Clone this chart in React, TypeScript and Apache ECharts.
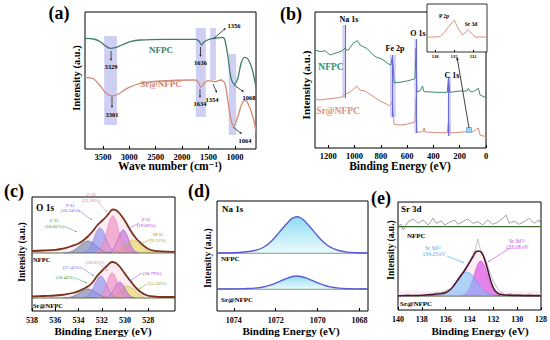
import React, { useEffect, useRef } from "react";
import * as echarts from "echarts";

const SERIF = '"Liberation Serif", "DejaVu Serif", serif';

// ---------- (a) FTIR ----------
const aTicks = [1000, 1500, 2000, 2500, 3000, 3500];
const aNFPC = [[3840,110.7],[3680,110],[3550,107.3],[3460,103.3],[3360,100.7],[3270,101.3],[3140,104],[2980,107.3],[2790,109],[2350,109.7],[1740,109.7],[1680,108],[1632,104],[1580,107.3],[1490,109.7],[1390,110.7],[1230,111.7],[1190,109],[1136,94],[1073,70.7],[1010,64.7],[945,70.7],[882,85.7],[819,91.7],[754,90],[678,80.7],[600,62]];
const aSrNFPC = [[3840,71.7],[3680,70.3],[3550,63],[3440,55.7],[3330,53],[3205,55],[3044,60.7],[2790,65.7],[2409,68],[1773,69],[1697,67.3],[1645,61.7],[1580,66.3],[1490,68.3],[1390,67.3],[1264,69],[1190,65.7],[1136,49],[1073,29],[1021,23],[945,32.3],[882,43],[819,49],[754,45.7],[659,32.3],[600,17.3]];
const aBands = [[3477,3235,24,113],[1741,1550,32,121],[1468,1359,69,121],[1117,977,14,95]];

// ---------- (b) XPS survey ----------
const bTicks = [0, 200, 400, 600, 800, 1000, 1200];
const bNFPC = [[1300,98],[1262,96.3],[1224,97.3],[1186,93],[1148,94.7],[1110,96.3],[1085,98],[1071,100],[1060,98],[1047,98],[1009,104.7],[978,107.3],[958,103],[933,101.3],[907,99.7],[882,96.3],[857,93],[831,90.7],[806,89.7],[781,88],[750,84.7],[724,83],[711,91],[705,80],[699,65.3],[654,65.7],[603,67],[552,68.7],[540,69.5],[531,100],[525,56.3],[502,57],[482,62],[475,57],[464,56.3],[375,55.7],[294,55.7],[285,70.7],[276,55.7],[197,57],[146,57],[134,59.7],[120,56.5],[96,56.3],[58,59.7],[45,53],[0,50.3]];
const bSrNFPC = [[1300,49],[1262,48],[1211,49],[1160,49.7],[1110,50.3],[1085,52],[1071,53.7],[1034,55.7],[983,62],[958,58],[920,57],[882,53.7],[844,50.3],[806,47],[768,44.7],[735,42.3],[718,44],[711,48],[705,35],[699,23.7],[654,23],[603,23.7],[547,25.7],[540,26],[531,50],[525,15.7],[479,16.3],[470,20],[464,16],[375,15.3],[294,15.3],[285,28],[276,15.3],[240,15.3],[146,16.3],[96,16.3],[70,19],[58,20],[45,13],[0,11.3]];
const bPeaks = [[1071,1092,1064,50,123],[711,730,686,31,93],[531,545,523,15,109],[285,291,266,12,71]];
const bInsetTicks = [132, 135, 138];
const bInset = [[139.3,15],[138,15],[137.2,15.5],[136.5,20],[135.8,26],[135.0,32],[134.4,24],[133.7,17],[133.3,19],[132.8,22.5],[132.2,18.5],[131.7,15],[129.8,15]];

// ---------- (c) O 1s ----------
const cTicks = [528, 530, 532, 534, 536, 538];
const cOffNFPC = 58;
const cOffSr = 13;
const cEnvN = [[538,2],[537,2.5],[536,3.2],[535.5,4],[535,5.3],[534.5,7.3],[534,9.5],[533.6,12.5],[533.2,16.5],[532.8,21.5],[532.4,27.5],[532,32],[531.6,36.5],[531.3,41],[531.05,43.5],[530.8,43],[530.5,40],[530.2,35.5],[529.9,30],[529.6,24],[529.3,18.5],[529,14],[528.6,9.5],[528.2,5.5],[527.8,3],[527.2,1.8],[526.5,1.3],[525.7,1.2]];
const cCO_N = [[535.3,0.1],[534.95,0.5],[534.6,1.6],[534.25,3.9],[533.9,7.3],[533.55,10.6],[533.2,12],[532.85,10.6],[532.5,7.3],[532.15,3.9],[531.8,1.6],[531.45,0.5],[531.1,0.1]];
const cPO1_N = [[533.65,0.3],[533.4,1.1],[533.15,3.4],[532.9,8.1],[532.65,15.2],[532.4,22.1],[532.15,25],[531.9,22.1],[531.65,15.2],[531.4,8.1],[531.15,3.4],[530.9,1.1],[530.65,0.3]];
const cCeO_N = [[532.55,0.4],[532.3,1.6],[532.05,5],[531.8,12],[531.55,22.5],[531.3,32.6],[531.05,37],[530.8,32.6],[530.55,22.5],[530.3,12],[530.05,5],[529.8,1.6],[529.55,0.4]];
const cPO2_N = [[531.5,0.3],[531.28,1],[531.05,3.1],[530.83,7.5],[530.6,14],[530.38,20.3],[530.15,23],[529.93,20.3],[529.7,14],[529.48,7.5],[529.25,3.1],[529.03,1],[528.8,0.3]];
const cMO_N = [[531.25,0.1],[530.93,0.6],[530.6,1.8],[530.28,4.2],[529.95,7.9],[529.63,11.5],[529.3,13],[528.98,11.5],[528.65,7.9],[528.33,4.2],[528,1.8],[527.68,0.6],[527.35,0.1]];
const cEnvS = [[538,1.5],[537,2],[536,2.5],[535.5,3],[535,3.8],[534.5,5],[534,6.8],[533.6,9],[533.2,11.5],[532.8,15.5],[532.4,22],[532,27],[531.6,31.5],[531.3,35],[531.1,36],[530.8,35],[530.5,32],[530.2,27.5],[529.9,22.5],[529.6,18],[529.3,13.5],[529,9.5],[528.6,5.5],[528.2,3],[527.8,1.8],[527.2,1.2],[526.5,1],[525.7,1]];
const cCO_S = [[535.3,0.1],[534.95,0.4],[534.6,1.2],[534.25,2.9],[533.9,5.5],[533.55,7.9],[533.2,9],[532.85,7.9],[532.5,5.5],[532.15,2.9],[531.8,1.2],[531.45,0.4],[531.1,0.1]];
const cPO1_S = [[533.6,0.2],[533.35,1],[533.1,3],[532.85,7.2],[532.6,13.4],[532.35,19.4],[532.1,22],[531.85,19.4],[531.6,13.4],[531.35,7.2],[531.1,3],[530.85,1],[530.6,0.2]];
const cCeO_S = [[532.45,0.3],[532.23,1.1],[532,3.4],[531.78,8.1],[531.55,15.2],[531.33,22.1],[531.1,25],[530.88,22.1],[530.65,15.2],[530.43,8.1],[530.2,3.4],[529.98,1.1],[529.75,0.3]];
const cPO2_S = [[531.8,0.2],[531.58,0.7],[531.35,2.2],[531.13,5.2],[530.9,9.7],[530.68,14.1],[530.45,16],[530.23,14.1],[530,9.7],[529.78,5.2],[529.55,2.2],[529.33,0.7],[529.1,0.2]];
const cMO_S = [[531.75,0.1],[531.43,0.5],[531.1,1.6],[530.78,3.9],[530.45,7.3],[530.13,10.6],[529.8,12],[529.48,10.6],[529.15,7.3],[528.83,3.9],[528.5,1.6],[528.18,0.5],[527.85,0.1]];

// ---------- (d) Na 1s ----------
const dTicks = [1068, 1070, 1072, 1074];
const dOffNFPC = 58;
const dOffSr = 22;
const dNaN = [[1074.8,0],[1074,0.3],[1073.5,1],[1073,2.5],[1072.6,5.5],[1072.3,10],[1072,16.5],[1071.7,24],[1071.4,31],[1071.2,34.8],[1071,36.3],[1070.8,35],[1070.6,31.5],[1070.3,24.5],[1070,17],[1069.7,10.5],[1069.4,5.8],[1069,2.5],[1068.6,0.9],[1068.2,0.3],[1067.6,0]];
const dNaS = [[1074.8,0],[1074,0.1],[1073.5,0.4],[1073,0.9],[1072.6,2],[1072.3,3.6],[1072,5.9],[1071.7,8.6],[1071.4,11.1],[1071.2,12.5],[1071,13],[1070.8,12.5],[1070.6,11.3],[1070.3,8.8],[1070,6.1],[1069.7,3.8],[1069.4,2.1],[1069,0.9],[1068.6,0.3],[1068.2,0.1],[1067.6,0]];

// ---------- (e) Sr 3d ----------
const eTicks = [128, 130, 132, 134, 136, 138, 140];
const eOffNFPC = 83.3;
const eOffSr = 14;
const eNoiseN = [[140,0.7],[139.75,2.4],[139.56,-3.3],[139.14,5],[138.72,7.7],[138.31,3.4],[137.89,6.7],[137.47,1.7],[137.06,8.4],[136.78,3.4],[136.36,5.7],[136.08,1.7],[135.67,4.4],[135.25,6.7],[134.97,2.4],[134.56,5],[134.14,7.7],[133.72,3.4],[133.31,5],[132.89,1.7],[132.47,6.7],[132.06,2.4],[131.64,4.4],[131.22,8.4],[130.94,11.7],[130.67,3.4],[130.25,5.7],[129.83,2.4],[129.42,5],[129,8.4],[128.58,3.4],[128.17,6.7],[128,2.7]];
const eRawS = [[140,0.5],[139.6,-0.5],[139.2,1.5],[138.8,0.3],[138.4,1],[138,0],[137.6,1.8],[137.2,1],[136.8,3.5],[136.4,3],[136,5.5],[135.6,7],[135.2,12],[134.8,17],[134.4,27],[134,35],[133.7,42],[133.5,47],[133.3,57],[133.1,47],[132.9,43],[132.6,35],[132.3,24],[132,15],[131.7,8],[131.4,4.5],[131,1],[130.6,2.5],[130.2,0.5],[129.8,1.5],[129.4,0],[129,2],[128.6,0.5],[128.2,1.2],[128,0.3]];
const eEnvS = [[140,0.3],[139,0.5],[138,0.8],[137.5,1.2],[137,1.6],[136.5,2.3],[136,3.6],[135.6,6.5],[135.25,11.5],[134.9,17.5],[134.6,22.5],[134.3,27.5],[134,33.5],[133.7,39.5],[133.44,44.5],[133.2,45],[133,43.5],[132.8,39],[132.55,29.5],[132.3,18.5],[132.05,9.5],[131.8,4.5],[131.5,2],[131,1],[130,0.6],[129,0.4],[128,0.3]];
const eSr32 = [[136.8,0.3],[136.38,1.1],[135.95,3.2],[135.53,7.8],[135.1,14.6],[134.68,21.2],[134.25,24],[133.83,21.2],[133.4,14.6],[132.98,7.8],[132.55,3.2],[132.13,1.1],[131.7,0.3]];
const eSr52 = [[134.7,0.4],[134.43,1.5],[134.15,4.7],[133.88,11.4],[133.6,21.2],[133.33,30.9],[133.05,35],[132.78,30.9],[132.5,21.2],[132.23,11.4],[131.95,4.7],[131.68,1.5],[131.4,0.4]];

// ---------- helpers ----------
const shift = (d: number[][], off: number) => d.map(([x, y]) => [x, +(y + off).toFixed(2)]);

function line(gi: number, data: any, color: string, width: number, o: any = {}) {
  return { type: "line", xAxisIndex: gi, yAxisIndex: gi, data, symbol: "none", silent: true,
    lineStyle: { color, width }, itemStyle: { color }, z: 3, ...o };
}
function comp(gi: number, d: number[][], off: number, fill: any, stroke: string, z = 3) {
  return line(gi, shift(d, off), stroke, 0.6, { smooth: 0.4, z, areaStyle: { color: fill, origin: off, opacity: 1 } });
}
function flat(gi: number, x1: number, x2: number, off: number, color: string, w: number) {
  return line(gi, [[x1, off], [x2, off]], color, w, { z: 3 });
}
function xAx(gi: number, min: number, max: number, ticks: number[], fs = 8, margin = 4, tl = 3) {
  return { type: "value", gridIndex: gi, min, max, inverse: true,
    axisLine: { show: false }, splitLine: { show: false },
    axisTick: { show: true, inside: true, length: tl, lineStyle: { color: "#000", width: 1 }, customValues: ticks },
    axisLabel: { show: true, customValues: ticks, formatter: (v: number) => String(v),
      fontFamily: SERIF, fontWeight: "bold", fontSize: fs, color: "#000", margin } };
}
function yAx(gi: number, max: number) {
  return { type: "value", gridIndex: gi, min: 0, max, show: false };
}
function txt(x: number, y: number, text: string, size: number, fill = "#000", o: any = {}) {
  const { align = "center", weight = "bold", rot = 0, lh } = o;
  return { type: "text", x, y, rotation: rot, z: 60,
    style: { text, fill, fontFamily: SERIF, fontSize: size, fontWeight: weight, align, verticalAlign: "middle",
      lineHeight: lh || size * 1.1, rich: o.rich } };
}
function arrow(x1: number, y1: number, x2: number, y2: number, color = "#222", w = 0.8, h = 2.6) {
  const a = Math.atan2(y2 - y1, x2 - x1);
  const bx = x2 - h * Math.cos(a), by = y2 - h * Math.sin(a);
  const px = -Math.sin(a) * h * 0.45, py = Math.cos(a) * h * 0.45;
  return [
    { type: "line", z: 55, shape: { x1, y1, x2: bx, y2: by }, style: { stroke: color, lineWidth: w } },
    { type: "polygon", z: 55, shape: { points: [[x2, y2], [bx + px, by + py], [bx - px, by - py]] }, style: { fill: color } },
  ];
}
const ROT = Math.PI / 2;

export default function App() {
  const ref = useRef<HTMLDivElement>(null);
  useEffect(() => {
    if (!ref.current) return;
    const chart = echarts.init(ref.current, null, { renderer: "svg", width: 550, height: 340 });

    const gridBox = [
      [85, 12, 171, 137],
      [315, 12, 171, 136],
      [32, 197, 143, 114],
      [217, 201, 151, 110],
      [398, 202, 144, 108],
      [427, 4, 60, 48],
    ];
    const grid = gridBox.map(([left, top, width, height], i) => ({
      left, top, width, height, show: true, borderColor: "#000", borderWidth: i === 5 ? 0.8 : 1,
      backgroundColor: i === 5 ? "#fff" : "transparent", containLabel: false,
    }));

    const xAxis = [
      xAx(0, 600, 3840, aTicks, 8.5, 3),
      xAx(1, 0, 1300, bTicks, 8.5, 3),
      xAx(2, 525.7, 538, cTicks, 8, 5),
      xAx(3, 1067.6, 1074.8, dTicks, 8, 5),
      xAx(4, 128, 140, eTicks, 8, 5),
      xAx(5, 129.8, 139.3, bInsetTicks, 4.5, 2, 2),
    ];
    const yAxis = [yAx(0, 137), yAx(1, 136), yAx(2, 114), yAx(3, 110), yAx(4, 108), yAx(5, 48)];

    const band = (arr: number[][], color: string) => ({
      silent: true, itemStyle: { color }, label: { show: false },
      data: arr.map(([x1, x2, y1, y2]) => [{ xAxis: x1, yAxis: y1 }, { xAxis: x2, yAxis: y2 }]),
    });

    const series: any[] = [];
    // (a)
    series.push(line(0, aNFPC, "#3f7d6e", 1.3, { smooth: 0.3, markArea: band(aBands, "rgba(140,140,228,0.42)") }));
    series.push(line(0, aSrNFPC, "#d08a76", 1.3, { smooth: 0.3 }));
    // (b)
    series.push(line(1, bNFPC, "#3a8a6c", 1, {
      markArea: band(bPeaks.map(([, f, t, lo, hi]) => [f, t, lo, hi]), "rgba(150,150,230,0.45)"),
      markLine: { silent: true, symbol: "none", label: { show: false }, lineStyle: { color: "#6a6ad6", width: 1, type: "solid" },
        data: bPeaks.map(([e, , , lo, hi]) => [{ coord: [e, lo] }, { coord: [e, hi] }]) },
    }));
    series.push(line(1, bSrNFPC, "#d48e7a", 1));
    series.push(line(5, bInset, "#d8957f", 1, { z: 6 }));
    // (c)
    const cSets = [
      [cOffNFPC, cEnvN, cCO_N, cMO_N, cPO2_N, cPO1_N, cCeO_N],
      [cOffSr, cEnvS, cCO_S, cMO_S, cPO2_S, cPO1_S, cCeO_S],
    ] as any[];
    for (const [off, env, co, mo, po2, po1, ceo] of cSets) {
      series.push(line(2, shift(env, off), "transparent", 0, { smooth: 0.4, z: 2, areaStyle: { color: "rgba(248,205,224,0.55)", origin: off } }));
      series.push(flat(2, 538, 525.7, off, "#4d5d3a", 0.9));
      series.push(comp(2, co, off, "rgba(95,120,165,0.55)", "#5a6e98"));
      series.push(comp(2, mo, off, "rgba(235,220,120,0.75)", "#c8b440"));
      series.push(comp(2, po2, off, "rgba(190,110,215,0.65)", "#a855c8"));
      series.push(comp(2, po1, off, "rgba(150,150,240,0.7)", "#7a7ae0"));
      series.push(comp(2, ceo, off, "rgba(240,150,200,0.72)", "#e07ab0"));
      series.push(line(2, shift(env, off), "#7a3218", 1.8, { smooth: 0.4, z: 5 }));
    }
    // (d)
    for (const [off, d] of [[dOffNFPC, dNaN], [dOffSr, dNaS]] as any[]) {
      series.push(flat(3, 1074.8, 1067.6, off, "#3d6b3a", 1.2));
      series.push(line(3, shift(d, off), "#5b5bd6", 1.4, { smooth: 0.4, z: 4,
        areaStyle: { origin: off, color: new echarts.graphic.LinearGradient(0, 0, 0, 1, [
          { offset: 0, color: "#5fd0ef" }, { offset: 1, color: "#e4f8fc" }]) } }));
    }
    // (e)
    series.push(line(4, shift(eNoiseN, eOffNFPC), "#8a8a8a", 0.8, { z: 3 }));
    series.push(flat(4, 140, 128, eOffNFPC, "#3f6b35", 1.3));
    series.push(line(4, shift(eEnvS, eOffSr), "transparent", 0, { smooth: 0.4, z: 2,
      areaStyle: { color: "rgba(250,205,228,0.5)", origin: eOffSr },
      markArea: { silent: true, itemStyle: { color: "rgba(250,200,225,0.35)" }, data: [[{ xAxis: 140, yAxis: eOffSr }, { xAxis: 128, yAxis: eOffSr + 5 }]] } }));
    series.push(comp(4, eSr52, eOffSr, "rgba(226,112,232,0.85)", "#c846d4", 3));
    series.push(comp(4, eSr32, eOffSr, "rgba(125,190,250,0.6)", "#4a9ae4", 4));
    series.push(line(4, shift(eRawS, eOffSr), "#a8a8a8", 0.7, { z: 4 }));
    series.push(flat(4, 140, 128, eOffSr, "#3a4a2a", 1.2));
    series.push(line(4, shift(eEnvS, eOffSr), "#4e1530", 1.6, { smooth: 0.4, z: 5 }));

    const pink = "#e070a8", blue = "#6464e0", green = "#3a9a4a", purple = "#a040c8", olive = "#a89a10";
    const graphic: any[] = [
      // (a)
      txt(59, 13, "(a)", 18),
      txt(76, 78, "Intensity (a.u.)", 10.5, "#000", { rot: ROT }),
      txt(170, 166, "Wave number (cm\u207B\u00B9)", 11.5),
      txt(161, 50, "NFPC", 9, "#3f7d6e"),
      txt(161, 84, "Sr@NFPC", 9, "#d2806c"),
      ...arrow(111, 51, 111, 61), txt(111, 66.5, "3329", 6.5),
      ...arrow(200.5, 47, 200.5, 57), txt(200.5, 62, "1636", 6.5),
      ...arrow(213, 39, 226, 28), txt(234, 25, "1356", 6.5),
      ...arrow(112, 97, 112, 108), txt(112, 114, "3301", 6.5),
      ...arrow(200, 89, 200, 98), txt(200, 103.5, "1634", 6.5),
      ...arrow(213, 84, 217, 93), txt(212, 99.5, "1354", 6.5),
      ...arrow(234, 85, 244, 92), txt(249, 97, "1068", 6.5),
      ...arrow(233, 127, 242, 134), txt(245, 140, "1064", 6.5),
      // (b)
      txt(291, 14, "(b)", 18),
      txt(306, 85, "Intensity (a.u.)", 11, "#000", { rot: ROT }),
      txt(400, 166, "Binding Energy (eV)", 11.5),
      txt(349, 19, "Na 1s", 8), txt(395, 48, "Fe 2p", 8), txt(418, 33, "O 1s", 8), txt(452, 75, "C 1s", 8),
      txt(331, 67, "NFPC", 9.5, "#2e9070"),
      txt(338, 111, "Sr@NFPC", 9.5, "#d8907c"),
      txt(444, 16, "P 2p", 5.5), txt(471, 24, "Sr 3d", 5.5),
      { type: "rect", z: 55, shape: { x: 466.5, y: 127.5, width: 5, height: 5 }, style: { fill: "#9fd4f5", stroke: "#4a90d0", lineWidth: 0.6 } },
      ...arrow(469, 128, 457, 57, "#111", 0.8, 3),
      // (c)
      txt(14, 191, "(c)", 18),
      txt(22, 252, "Intensity (a.u.)", 9.5, "#000", { rot: ROT }),
      txt(103, 331, "Binding Energy (eV)", 11),
      txt(36, 208, "O 1s", 9.5, "#000", { align: "left" }),
      txt(33, 259, "NFPC", 6.5, "#000", { align: "left" }),
      txt(33, 305, "Sr@NFPC", 6.5, "#000", { align: "left" }),
      txt(91, 197.5, "C=O\n(32.28%)", 5, pink, { weight: "normal", lh: 5.5 }),
      txt(70, 208, "P-O\n(20.34%)", 5, blue, { weight: "normal", lh: 5.5 }),
      txt(54, 223.5, "C-O\n(18.66%)", 5, green, { weight: "normal", lh: 5.5 }),
      txt(146, 222.5, "P-O\n(19.60%)", 5, purple, { weight: "normal", lh: 5.5 }),
      txt(158, 237.5, "M-O\n(9.12%)", 5, olive, { weight: "normal", lh: 5.5 }),
      ...arrow(98, 202, 107, 212, pink, 0.5, 1.8),
      ...arrow(78, 210, 92, 220, blue, 0.5, 1.8),
      ...arrow(63, 226, 77, 232, green, 0.5, 1.8),
      ...arrow(139, 223, 128, 229, purple, 0.5, 1.8),
      ...arrow(151, 239, 141, 244, olive, 0.5, 1.8),
      txt(95, 262, "(28.01%)", 5, pink, { weight: "normal" }),
      txt(72, 267, "(27.43%)", 5, blue, { weight: "normal" }),
      txt(65, 277, "(18.46%)", 5, green, { weight: "normal" }),
      txt(152, 273, "(18.79%)", 5, purple, { weight: "normal" }),
      txt(157, 283, "(15.30%)", 5, olive, { weight: "normal" }),
      ...arrow(99, 264, 108, 271, pink, 0.5, 1.8),
      ...arrow(82, 268, 94, 276, blue, 0.5, 1.8),
      ...arrow(75, 278, 87, 283, green, 0.5, 1.8),
      ...arrow(142, 273, 130, 281, purple, 0.5, 1.8),
      ...arrow(147, 284, 139, 289, olive, 0.5, 1.8),
      // (d)
      txt(199, 191, "(d)", 18),
      txt(208, 258, "Intensity (a.u.)", 9.5, "#000", { rot: ROT }),
      txt(291, 331, "Binding Energy (eV)", 11),
      txt(222, 209, "Na 1s", 9, "#000", { align: "left" }),
      txt(221, 259, "NFPC", 7, "#000", { align: "left" }),
      txt(221, 300, "Sr@NFPC", 7, "#000", { align: "left" }),
      // (e)
      txt(381, 198, "(e)", 18),
      txt(391, 250, "Intensity (a.u.)", 9.5, "#000", { rot: ROT }),
      txt(480, 331, "Binding Energy (eV)", 11),
      txt(401, 209, "Sr 3d", 9, "#000", { align: "left" }),
      txt(407, 236, "NFPC", 7, "#000", { align: "left" }),
      txt(400, 304, "Sr@NFPC", 7, "#000", { align: "left" }),
      txt(433, 248, "Sr 3d{s|3/2}", 5.5, "#4aa0e8", { weight: "normal", rich: { s: { fontSize: 3.5, fill: "#4aa0e8", fontFamily: SERIF } } }),
      txt(434, 254, "134.23 eV", 5.5, "#4aa0e8", { weight: "normal" }),
      txt(517, 241, "Sr 3d{s|5/2}", 5.5, "#c040e0", { weight: "normal", rich: { s: { fontSize: 3.5, fill: "#c040e0", fontFamily: SERIF } } }),
      txt(517, 247, "133.18 eV", 5.5, "#c040e0", { weight: "normal" }),
      ...arrow(447, 256, 464, 263, "#4aa0e8", 0.6, 2),
      ...arrow(510, 248, 488, 262, "#c040e0", 0.6, 2),
    ];

    chart.setOption({
      animation: false,
      backgroundColor: "#fff",
      textStyle: { fontFamily: SERIF },
      grid, xAxis, yAxis, series, graphic,
    });
    return () => chart.dispose();
  }, []);
  return <div ref={ref} style={{ position: "fixed", left: 0, top: 0, width: 550, height: 340, background: "#fff" }} />;
}
